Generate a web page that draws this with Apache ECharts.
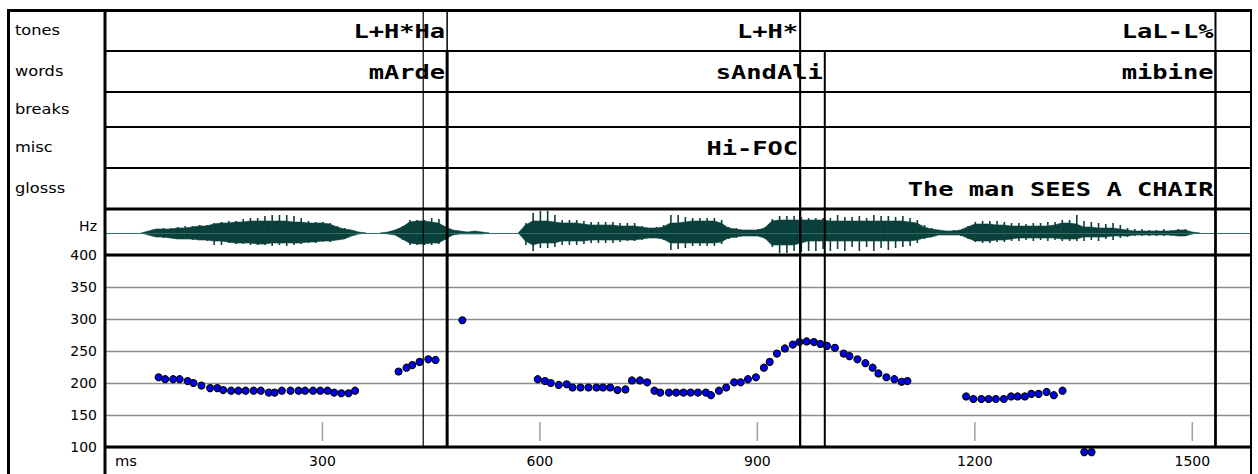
<!DOCTYPE html>
<html><head><meta charset="utf-8">
<script src="https://cdn.jsdelivr.net/npm/echarts@6/dist/echarts.min.js"></script>
<style>html,body{margin:0;padding:0;background:#fff}#c{width:1258px;height:474px}</style>
</head><body><div id="c"></div>
<script>
// ---------- data ----------
const tierNames = ['tones', 'words', 'breaks', 'misc', 'glosss'];
const toneLabels = ['L+H*Ha', 'L+H*', 'LaL-L%'];
const toneEnds = [472, 959, 1532];
const wordLabels = ['mArde', 'sAndAli', 'mibine'];
const wordEnds = [472, 993, 1532];
const miscLabels = ['Hi-FOC'];
const miscEnds = [959];
const glossLabels = ['The man SEES A CHAIR'];
const glossEnds = [1532];
const markerTimes = [439];
const xTicks = [300, 600, 900, 1200, 1500];

const pitchMs = [74,83,94,103,114,122,133,145,155,163,174,184,194,205,215,226,234,244,256,267,276,287,297,307,316,326,336,345,
  405,416,424,434,446,456,
  493,
  597,607,615,626,637,645,656,667,678,687,697,707,718,727,738,748,758,766,778,788,798,808,818,829,836,847,857,868,877,887,898,909,917,927,938,949,958,968,978,987,996,
  1007,1019,1027,1038,1049,1059,1067,1078,1089,1099,1107,
  1188,1198,1209,1219,1229,1240,1250,1259,1269,1278,1288,1299,1309,1321,
  1351,1361];
const pitchHz = [209,206,206,206,203,200,196,192,192,189,188,188,188,188,188,185,185,188,188,188,188,188,188,188,185,184,184,188,
  218,224,228,233,237,236,
  298,
  206,203,200,197,198,193,193,193,193,193,193,189,190,204,204,201,188,185,185,185,185,185,185,185,181,188,193,201,201,206,209,224,233,246,254,260,264,265,264,261,258,
  255,246,242,237,231,224,215,209,206,202,203,
  179,175,175,175,175,175,179,179,179,183,183,186,181,188,
  92,92];

// waveform envelope, one value every 10 ms from 0 ms
const waveStepMs = 10;
const waveTop = [0,0,0,0,0,0,
  2,4,4,4,5,5,6,7,7,
  9,10,10,11,11,12,12,12,12,12,12,11,11,10,10,10,9,
  6,4,3,1,
  0,0,0,
  1,3,6,11,12,12,11,10,6,3,2,1,2,1,
  0,0,0,0,0,
  8,12,12,12,11,10,10,10,9,8,8,8,8,7,7,7,6,5,5,6,
  10,10,11,12,12,12,12,10,5,4,3,3,3,5,
  12,13,13,13,13,13,13,13,12,12,12,12,12,12,12,12,12,12,12,11,10,6,4,3,2,2,3,
  6,9,9,9,8,8,7,7,7,7,7,7,8,10,10,9,6,6,5,5,5,4,3,2,2,2,2,2,2,3,3,1,
  0,0,0,0,0,0,0,0];
const waveBot = [0,0,0,0,0,0,
  2,4,4,5,6,6,6,7,7,
  8,8,9,10,10,10,11,11,10,10,10,10,10,9,9,8,8,
  7,6,3,1,
  0,0,0,
  1,2,6,10,11,11,10,10,6,2,1,1,1,1,
  0,0,0,0,0,
  8,12,10,10,10,8,8,8,8,7,7,7,7,7,7,7,6,5,5,6,
  10,10,10,10,10,10,10,9,5,4,3,3,3,5,
  12,12,12,12,10,8,8,8,8,8,8,8,8,8,8,8,8,8,8,8,7,5,4,2,2,2,2,
  5,8,8,8,7,7,6,5,5,5,5,5,5,6,6,6,4,4,4,4,3,3,3,2,2,2,2,2,2,3,3,1,
  0,0,0,0,0,0,0,0];
const spikeTop = [0,0,0,0,0,0,
  2,4,5,5,6,7,7,8,8,
  10,11,12,12,14,15,15,17,18,18,18,17,15,12,11,11,10,
  7,5,3,1,
  0,0,0,
  1,3,7,13,13,13,15,14,7,3,2,1,2,1,
  0,0,0,0,0,
  10,20,22,22,18,13,13,13,12,11,11,11,11,10,10,10,7,5,6,8,
  18,18,16,15,15,15,15,13,6,5,3,3,4,6,
  14,17,17,17,16,15,15,15,15,18,16,16,17,15,18,17,17,16,17,15,13,8,5,3,2,3,3,
  7,11,12,12,12,11,10,10,9,10,10,11,11,13,13,18,12,11,10,9,10,8,5,4,4,3,3,4,3,4,4,1,
  0,0,0,0,0,0,0,0];
const spikeBot = [0,0,0,0,0,0,
  2,4,5,5,6,6,7,7,8,
  12,12,10,11,11,12,12,12,13,12,13,12,11,10,10,9,9,
  7,6,3,1,
  0,0,0,
  1,2,7,12,12,12,12,11,7,2,1,1,1,1,
  0,0,0,0,0,
  12,18,15,15,14,12,12,12,11,10,10,10,10,9,8,8,7,5,5,7,
  17,16,15,13,13,13,13,11,6,5,3,3,3,6,
  14,20,20,18,19,18,18,16,18,16,18,14,18,14,18,15,17,15,14,13,10,6,4,2,2,2,3,
  6,9,10,10,9,9,8,8,7,8,7,8,7,8,8,8,8,7,8,6,7,5,4,3,3,3,3,3,3,3,3,1,
  0,0,0,0,0,0,0,0];

// ---------- layout ----------
const L = 105, R = 1251;
const tierY = [10, 51, 92, 127, 168, 209];
const waveTopY = 209, pitchTopY = 255, pitchBotY = 447;
const WAVE = '#0a403c';
const ANN_FONT = 'bold 20px "DejaVu Sans Mono"';
const LAB_FONT = '14px "DejaVu Sans"';

const chart = echarts.init(document.getElementById('c'), null, {renderer: 'svg'});

const pitchData = pitchMs.map((m, i) => [m, pitchHz[i]]);
const waveData = waveTop.map((v, i) => [i * waveStepMs, v, waveBot[i], spikeTop[i], spikeBot[i]]);

chart.setOption({
  animation: false,
  backgroundColor: '#fff',
  grid: [
    {left: L, width: R - L, top: pitchTopY, height: pitchBotY - pitchTopY, outerBoundsMode: 'none', containLabel: false},
    {left: L, width: R - L, top: 211, height: 44, outerBoundsMode: 'none', containLabel: false}
  ],
  xAxis: [
    {gridIndex: 0, type: 'value', min: 0, max: 1581, interval: 300,
      axisLine: {show: false}, axisTick: {show: false}, splitLine: {show: false},
      axisLabel: {fontSize: 14, fontFamily: 'DejaVu Sans', color: '#000', margin: 7,
        formatter: v => (v > 0 && v % 300 === 0) ? String(v) : ''}},
    {gridIndex: 1, type: 'value', min: 0, max: 1581, show: false}
  ],
  yAxis: [
    {gridIndex: 0, type: 'value', min: 100, max: 400, interval: 50,
      axisLine: {show: false}, axisTick: {show: false},
      splitLine: {show: true, lineStyle: {color: '#8e8e8e', width: 1.3}},
      axisLabel: {fontSize: 14, fontFamily: 'DejaVu Sans', color: '#000', margin: 8}},
    {gridIndex: 1, type: 'value', min: -22, max: 22, show: false}
  ],
  series: [
    {
      type: 'custom', xAxisIndex: 1, yAxisIndex: 1, silent: true, clip: false,
      data: waveData,
      renderItem: (params, api) => {
        const i = params.dataIndex;
        const m = api.value(0), t = api.value(1), b = api.value(2), st = api.value(3), sb = api.value(4);
        const children = [];
        if (i < waveData.length - 1) {
          const n = waveData[i + 1];
          if (t + b + n[1] + n[2] > 0) {
            const p1 = api.coord([m, t]), p2 = api.coord([n[0], n[1]]);
            const p3 = api.coord([n[0], -n[2]]), p4 = api.coord([m, -b]);
            children.push({type: 'polygon', shape: {points: [p1, p2, p3, p4]},
              style: {fill: WAVE, stroke: WAVE, lineWidth: 0.6}});
          }
        }
        if (st > t || sb > b) {
          const a = api.coord([m, st]), c = api.coord([m, -sb]);
          children.push({type: 'line', shape: {x1: a[0] + 0.5, y1: a[1], x2: c[0] + 0.5, y2: c[1]},
            style: {stroke: WAVE, lineWidth: 1.6}});
        }
        return {type: 'group', children};
      },
      markLine: {silent: true, symbol: ['none', 'none'], label: {show: false},
        lineStyle: {color: '#2f6e68', width: 1, type: 'solid'}, data: [{yAxis: 0}]}
    },
    {
      type: 'custom', xAxisIndex: 0, yAxisIndex: 0, silent: true, clip: false,
      data: xTicks.map(v => [v]),
      renderItem: (params, api) => {
        const p = api.coord([api.value(0), 100]);
        return {type: 'line', shape: {x1: p[0], y1: p[1] - 6, x2: p[0], y2: p[1] - 25},
          style: {stroke: '#a0a0a0', lineWidth: 1.5}};
      }
    },
    {
      type: 'scatter', xAxisIndex: 0, yAxisIndex: 0, clip: false, silent: true,
      symbol: 'circle', symbolSize: 7, z: 5,
      itemStyle: {color: '#0000f0', borderColor: '#000', borderWidth: 1.1, opacity: 1},
      data: pitchData
    }
  ]
});

// ---------- frame, tiers and annotations ----------
const px = ms => chart.convertToPixel({xAxisIndex: 0}, ms);
const g = [];
function line(x1, y1, x2, y2, w, color) {
  g.push({type: 'line', silent: true, z: 100,
    shape: {x1, y1, x2, y2}, style: {stroke: color || '#000', lineWidth: w}});
}
function text(str, x, y, font, align, sx) {
  g.push({type: 'text', silent: true, z: 110, x, y, scaleX: sx || 1,
    style: {text: str, font, fill: '#000', align, textAlign: align, verticalAlign: 'middle', textVerticalAlign: 'middle'}});
}
// outer frame
line(7, 10.5, R + 1, 10.5, 3);
line(8.5, 9, 8.5, 474, 3);
line(L, 9, L, 474, 3);
line(R, 9, R, 474, 2);
// tier separators
for (let k = 1; k < tierY.length - 1; k++) line(L, tierY[k], R, tierY[k], 2);
line(L, waveTopY, R, waveTopY, 3);
line(L, pitchTopY, R, pitchTopY, 3);
// tier names
tierNames.forEach((n, k) => text(n, 15, (tierY[k] + tierY[k + 1]) / 2, LAB_FONT, 'left', 1.16));
text('Hz', 97, 226, LAB_FONT, 'right', 1);
text('ms', 115, 461, LAB_FONT, 'left', 1.05);
// boundaries and labels
function tier(labels, ends, k, widths) {
  ends.forEach((e, j) => {
    const x = px(e);
    line(x, tierY[k], x, pitchBotY, widths[j]);
    if (labels[j]) text(labels[j], x - 2, (tierY[k] + tierY[k + 1]) / 2 + 1, ANN_FONT, 'right', 1.27);
  });
}
tier(toneLabels, toneEnds, 0, [1.5, 2, 2]);
tier(wordLabels, wordEnds, 1, [3, 2, 2]);
tier(miscLabels, miscEnds, 3, [2]);
tier(glossLabels, glossEnds, 4, [2]);
markerTimes.forEach(m => { const x = px(m); line(x, tierY[0], x, pitchBotY, 1.2); });
// bottom axis line
line(L, pitchBotY, R, pitchBotY, 3);

chart.setOption({graphic: {elements: g}});
</script>
</body></html>
